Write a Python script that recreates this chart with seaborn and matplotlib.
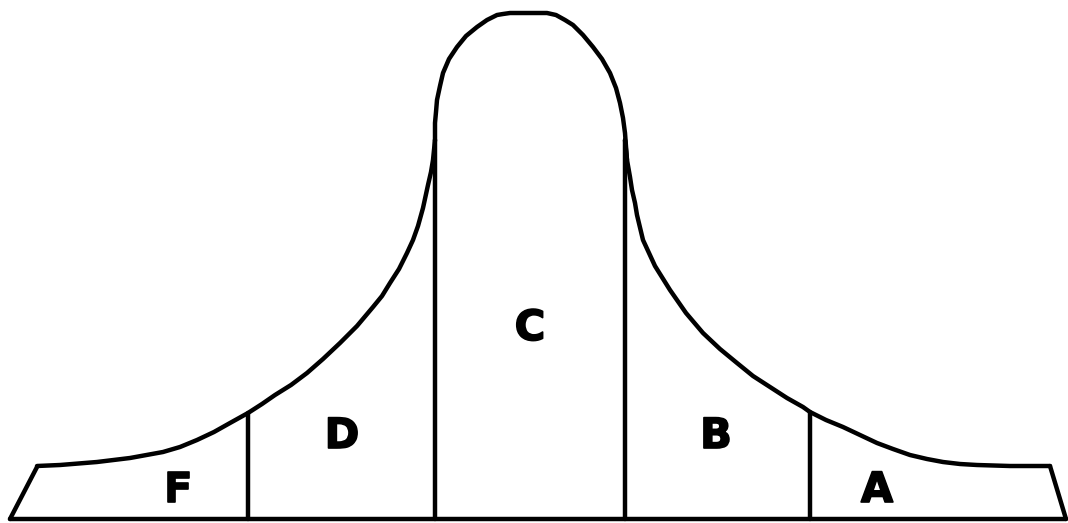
import pandas as pd
import matplotlib.pyplot as plt
import matplotlib.patheffects as pe
import seaborn as sns

# Outline pieces (pixel coordinates, y downwards)
base_x = [10, 1066]
base_y = [519, 519]

left_edge_x = [10, 37]
left_edge_y = [519, 467]

left_curve_x = [37, 60, 97, 130, 163, 180, 197, 214, 230, 248, 262, 275, 291, 307,
                323, 340, 357, 373, 382, 390, 399, 407, 413, 418, 423, 428, 431, 433, 435]
left_curve_y = [466, 465, 462, 458, 452, 447, 440, 432, 423, 413, 404, 395, 385, 373,
                359, 343, 326, 307, 296, 283, 269, 253, 240, 226, 208, 185, 172, 160, 140]

dome_x = [435, 435, 436, 437, 440, 443, 449, 457, 466, 477, 487, 497, 503, 510,
          547, 556, 565, 573, 583, 593, 602, 610, 616, 620, 623, 625, 627]
dome_y = [140, 123, 112, 100, 86, 73, 59, 47, 36, 27, 20, 15, 14, 13,
          13, 15, 20, 25, 35, 47, 59, 73, 88, 103, 118, 133, 160]

right_curve_x = [625, 627, 630, 632, 635, 637, 643, 655, 670, 686, 703, 720, 737, 753, 770,
                 787, 803, 810, 826, 843, 860, 877, 893, 910, 927, 943, 960, 977, 1010, 1050]
right_curve_y = [140, 160, 177, 190, 203, 215, 240, 266, 290, 313, 333, 349, 363, 376, 387,
                 398, 407, 412, 420, 427, 435, 443, 449, 455, 459, 462, 464, 465, 466, 466]

right_edge_x = [1050, 1066]
right_edge_y = [466, 519]

# vertical dividers: x, top, bottom
div_x = [248, 435, 625, 810]
div_top = [413, 140, 140, 412]
div_bottom = [519, 519, 519, 519]

grades = ["F", "D", "C", "B", "A"]
grade_x = [178, 342, 530, 716, 877]
grade_y = [490, 436, 328, 436, 490]

# one long table, one segment per outline piece
pieces = [
    ("base", base_x, base_y),
    ("left_edge", left_edge_x, left_edge_y),
    ("left_curve", left_curve_x, left_curve_y),
    ("dome", dome_x, dome_y),
    ("right_curve", right_curve_x, right_curve_y),
    ("right_edge", right_edge_x, right_edge_y),
]
for i, x in enumerate(div_x):
    pieces.append((f"div{i}", [x, x], [div_top[i], div_bottom[i]]))

rows = []
for name, xs, ys in pieces:
    for x, y in zip(xs, ys):
        rows.append({"seg": name, "x": x, "y": y})
df = pd.DataFrame(rows)

sns.set_style("white")
fig = plt.figure(figsize=(10.68, 5.23), dpi=100)
ax = fig.add_axes([0, 0, 1, 1])

sns.lineplot(data=df, x="x", y="y", units="seg", estimator=None, sort=False,
             color="black", linewidth=3.2, ax=ax,
             solid_capstyle="round", solid_joinstyle="round")

for g, x, y in zip(grades, grade_x, grade_y):
    ax.text(x, y, g, ha="center", va="center", fontsize=30,
            fontweight="heavy", family="DejaVu Sans", color="black",
            path_effects=[pe.withStroke(linewidth=1.2, foreground="black")])

ax.set_xlim(0, 1068)
ax.set_ylim(523, 0)
ax.axis("off")

plt.savefig("out.png", dpi=100)
plt.close()
